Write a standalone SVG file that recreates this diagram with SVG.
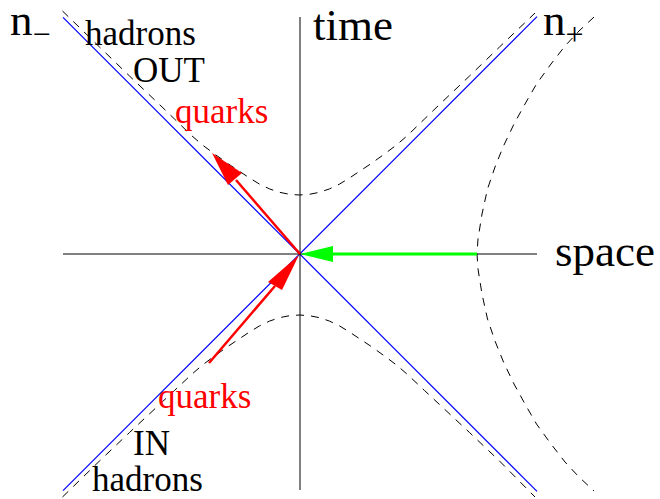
<svg xmlns="http://www.w3.org/2000/svg" width="660" height="499" viewBox="0 0 660 499">
<style>
text{font-family:"Liberation Serif","Times New Roman",serif;}
.big{font-size:45px;fill:#000}
.lab{font-size:35px;fill:#000}
.red{font-size:35px;fill:#ff0000}
.axis{stroke:#000;stroke-width:1;fill:none}
.cone{stroke:#0000ff;stroke-width:1.2;fill:none}
.hyp{stroke:#000;stroke-width:1;fill:none;stroke-dasharray:8 7}
</style>
<g id="light-cone">
<path class="cone" d="M63,17.3 L537,491.3"/>
<path class="cone" d="M63,490.7 L537,16.7"/>
</g>
<g id="axes">
<line class="axis" x1="300" y1="17" x2="300" y2="490"/>
<line class="axis" x1="63" y1="254" x2="537" y2="254"/>
</g>
<g id="hyperbolas">
<polyline class="hyp" points="62.5,11 99.5,47 129.5,76 159.5,104.5 174.5,119 191.5,135.5 202.5,145 214.5,154 228.5,164 239.5,171.3 249.5,178 259.5,184.1 269.5,188.9 279.5,192.3 289.5,194.3 299.5,195 309.5,194.3 319.5,192.3 329.5,188.9 339.5,184.1 349.5,178 359.5,171.3 370.5,164 384.5,154 396.5,145 407.5,135.5 424.5,119 439.5,104.5 469.5,76 499.5,47 535,13"/>
<polyline class="hyp" points="62.5,497 99.5,461 129.5,432.5 159.5,404.5 174.5,390.5 191.5,374.5 202.5,365 214.5,356 228.5,346 239.5,338.7 249.5,332 259.5,325.9 269.5,321.1 279.5,317.7 289.5,315.7 299.5,315 309.5,315.7 319.5,317.7 329.5,321.1 339.5,325.9 349.5,332 359.5,338.7 370.5,346 384.5,356 396.5,365 407.5,374.5 424.5,390.5 439.5,404.5 469.5,432.5 499.5,461 535,497"/>
<polyline class="hyp" points="594,17 579,31 565,46 551,64 536.5,84 525,104 514,124 503.5,146 495,167 487.5,189 482,214 478,239 477,254 478,269 482,294 487.5,319 495,341 503.5,362 514,384 525,404 536.5,424 551,444 565,462 579,477 594,491"/>
</g>
<g id="connectors">
<g id="quark-out">
<line x1="300" y1="254" x2="236" y2="180" stroke="#ff0000" stroke-width="2.5"/>
<polygon points="212,153 228,185 242,173" fill="#ff0000"/>
</g>
<g id="quark-in">
<line x1="209" y1="363" x2="275" y2="286" stroke="#ff0000" stroke-width="2.5"/>
<polygon points="299,255 268,282 282,290" fill="#ff0000"/>
</g>
<g id="green-arrow">
<line x1="477" y1="254" x2="326" y2="254" stroke="#00ff00" stroke-width="3"/>
<polygon points="300,254 333,246 333,262" fill="#00ff00"/>
</g>
</g>
<g id="labels">
<text class="big" x="10" y="35">n<tspan font-size="32" dy="10">−</tspan></text>
<text class="big" x="543" y="35">n<tspan font-size="32" dy="10">+</tspan></text>
<text class="big" x="313" y="40">time</text>
<text class="big" x="555" y="266">space</text>
<text class="lab" x="85" y="45">hadrons</text>
<text class="lab" x="133" y="82">OUT</text>
<text class="red" x="175" y="123">quarks</text>
<text class="red" x="158" y="408">quarks</text>
<text class="lab" x="133" y="455">IN</text>
<text class="lab" x="92" y="491">hadrons</text>
</g>
</svg>
